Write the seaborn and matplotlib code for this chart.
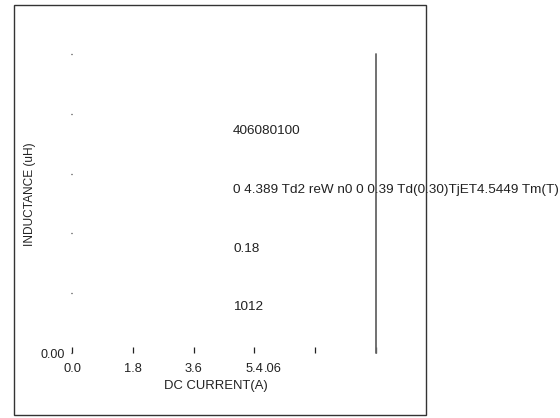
import matplotlib
matplotlib.use("Agg")
import matplotlib.pyplot as plt
import seaborn as sns
import pandas as pd
from matplotlib.patches import Rectangle

# Chart values
x_ticks = [0.0, 1.8, 3.6, 5.4, 7.2, 9.0]
x_tick_labels = ["0.0", "1.8", "3.6", "5.4", "", ""]
y_ticks = [0, 1, 2, 3, 4, 5]
y_tick_labels = ["0.00", "", "", "", "", ""]
line_current = [9.0, 9.0]
line_inductance = [0.0, 5.0]
stray_labels = ["406080100",
                "0 4.389 Td2 reW n0 0 0.39 Td(0.30)TjET4.5449 Tm(T)",
                "0.18",
                "1012"]

TXT = "#222222"
sns.set_theme(style="white")
plt.rcParams['font.family'] = ['Liberation Sans', 'DejaVu Sans']

W, H = 560, 418
fig = plt.figure(figsize=(W / 100, H / 100), dpi=100)
fig.patch.set_facecolor("white")

# axes: x=0 at px 72, x=9 at px 376; y=0 at px 353, y=5 at px 54
ax = fig.add_axes([72 / W, 1 - 353 / H, 304 / W, 299 / H])
ax.set_facecolor("none")

df = pd.DataFrame({"current": line_current, "inductance": line_inductance})
sns.lineplot(data=df, x="current", y="inductance", ax=ax, color="#666666",
             linewidth=1.3, sort=False, estimator=None)
for l in ax.get_lines():
    l.set_clip_on(False)

ax.set_xlim(0, 9.0)
ax.set_ylim(0, 5)
for s in ax.spines.values():
    s.set_visible(False)

ax.set_xticks(x_ticks)
ax.set_xticklabels(x_tick_labels)
ax.set_yticks(y_ticks)
ax.set_yticklabels(y_tick_labels)
ax.tick_params(axis="x", direction="in", length=4.3, width=0.9, color=TXT,
               pad=7, labelsize=9.3, labelcolor=TXT, bottom=True)
ax.tick_params(axis="y", direction="out", length=0.8, width=0.9, color=TXT,
               pad=4, labelsize=9, labelcolor=TXT, left=True)
ax.set_xlabel("")
ax.set_ylabel("")

# overlapping fragment after the 5.4 label
ax.annotate(".06", xy=(5.4, 0), xycoords="data", xytext=(6.6, -7),
            textcoords="offset points", ha="left", va="top",
            fontsize=9.3, color=TXT)

# stray text lines in the plot area
for txt, ypx in zip(stray_labels, [131, 190, 249, 307]):
    fig.text(233 / W, 1 - ypx / H, txt, ha="left", va="center",
             fontsize=9.7, color=TXT)

fig.text(216 / W, 1 - 386 / H, "DC CURRENT(A)", ha="center", va="center",
         fontsize=9.4, color=TXT)
fig.text(30 / W, 1 - 194 / H, "INDUCTANCE (uH)", ha="center", va="center",
         rotation=90, fontsize=8.6, color=TXT)

# outer frame
fig.patches.append(Rectangle((14 / W, 1 - 415 / H), 412 / W, 410 / H,
                             transform=fig.transFigure, fill=False,
                             edgecolor="#333333", linewidth=1.0))

fig.savefig("out.png", dpi=100, facecolor="white")
